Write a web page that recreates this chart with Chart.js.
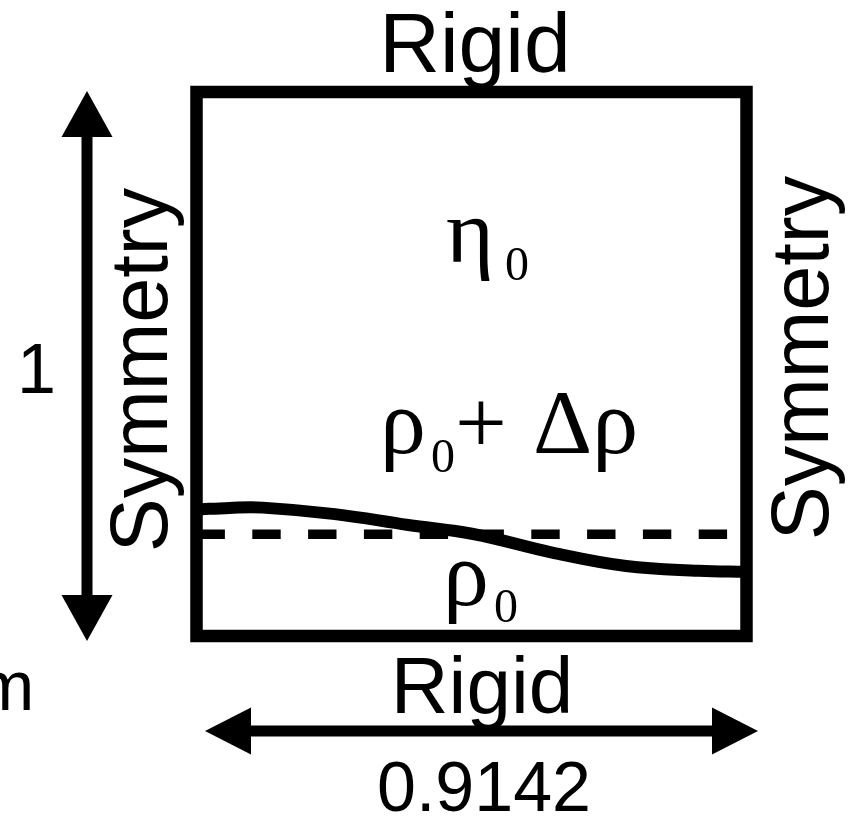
<!DOCTYPE html>
<html>
<head>
<meta charset="utf-8">
<script src="https://cdn.jsdelivr.net/npm/chart.js@4"></script>
<style>
  html, body { margin: 0; padding: 0; background: #fff; }
  canvas { display: block; }
</style>
</head>
<body>
<canvas id="diagram" width="854" height="816"></canvas>
<script>
// Domain
const domainWidth = 0.9142;
const domainHeight = 1;

// Interface (data units)
const interfaceX = [0, 0.055, 0.11, 0.23, 0.352, 0.46, 0.593, 0.714, 0.835, 0.9142];
const interfaceY = [0.2325, 0.2355, 0.236, 0.224, 0.204, 0.1875, 0.153, 0.1287, 0.120, 0.118];

// Initial (unperturbed) level
const levelX = [0, 0.9142];
const levelY = [0.187, 0.187];

const toPoints = (xs, ys) => xs.map((x, i) => ({ x: x, y: ys[i] }));

// Draw box, arrows and labels
const annotations = {
    id: 'annotations',
    afterDatasetsDraw(chart) {
        const ctx = chart.ctx;
        const a = chart.chartArea;
        ctx.save();

        // box
        ctx.strokeStyle = '#000';
        ctx.lineWidth = 12.5;
        ctx.lineJoin = 'miter';
        ctx.strokeRect(a.left, a.top, a.right - a.left, a.bottom - a.top);

        // arrows
        ctx.fillStyle = '#000';
        ctx.lineWidth = 11;
        ctx.lineCap = 'butt';
        ctx.beginPath();
        ctx.moveTo(87, 130); ctx.lineTo(87, 602);
        ctx.moveTo(245, 731); ctx.lineTo(715, 731);
        ctx.stroke();
        tri(ctx, 87, 91, 61.5, 137, 112.5, 137);
        tri(ctx, 87, 641, 61.5, 595, 112.5, 595);
        tri(ctx, 205, 731, 251, 707.5, 251, 754.5);
        tri(ctx, 758, 731, 712, 707.5, 712, 754.5);

        // sans labels
        ctx.textBaseline = 'alphabetic';
        ctx.textAlign = 'center';
        ctx.font = '84px "Liberation Sans", Arial, sans-serif';
        ctx.fillText('Rigid', 475, 72);
        ctx.font = '80px "Liberation Sans", Arial, sans-serif';
        ctx.fillText('Rigid', 482, 713);
        ctx.font = '70px "Liberation Sans", Arial, sans-serif';
        ctx.fillText('0.9142', 484, 811);
        ctx.textAlign = 'left';
        ctx.fillText('1', 17, 393);
        ctx.fillText('m', -24, 710);

        ctx.textAlign = 'center';
        ctx.font = '81px "Liberation Sans", Arial, sans-serif';
        vertical(ctx, 'Symmetry', 167, 370);
        vertical(ctx, 'Symmetry', 828, 358);

        // serif labels
        ctx.textAlign = 'left';
        const big = '92px "Liberation Serif", "Times New Roman", serif';
        const sub = '48px "Liberation Serif", "Times New Roman", serif';
        ctx.font = big; ctx.fillText('\u03B7', 446, 262);
        ctx.font = sub; ctx.fillText('0', 505, 280);

        ctx.font = big; ctx.fillText('\u03C1', 380, 453);
        ctx.font = sub; ctx.fillText('0', 431, 472);
        ctx.font = big; ctx.fillText('+', 455, 453);
        ctx.fillText('\u0394\u03C1', 533, 453);

        ctx.font = big; ctx.fillText('\u03C1', 443, 605);
        ctx.font = sub; ctx.fillText('0', 494, 622);

        ctx.restore();
    }
};

function tri(ctx, x1, y1, x2, y2, x3, y3) {
    ctx.beginPath();
    ctx.moveTo(x1, y1); ctx.lineTo(x2, y2); ctx.lineTo(x3, y3);
    ctx.closePath();
    ctx.fill();
}

function vertical(ctx, text, x, y) {
    ctx.save();
    ctx.translate(x, y);
    ctx.rotate(-Math.PI / 2);
    ctx.fillText(text, 0, 0);
    ctx.restore();
}

new Chart(document.getElementById('diagram'), {
    type: 'scatter',
    data: {
        datasets: [
            {
                data: toPoints(levelX, levelY),
                showLine: true,
                borderColor: '#000',
                borderWidth: 9.5,
                borderDash: [28.4, 27.4],
                pointRadius: 0
            },
            {
                data: toPoints(interfaceX, interfaceY),
                showLine: true,
                borderColor: '#000',
                borderWidth: 12,
                tension: 0.4,
                pointRadius: 0
            }
        ]
    },
    options: {
        responsive: false,
        animation: false,
        events: [],
        layout: { padding: { left: 196.5, top: 92, right: 107.5, bottom: 180 } },
        plugins: { legend: { display: false }, tooltip: { enabled: false } },
        scales: {
            x: { type: 'linear', display: false, min: 0, max: domainWidth },
            y: { type: 'linear', display: false, min: 0, max: domainHeight }
        }
    },
    plugins: [annotations]
});
</script>
</body>
</html>
